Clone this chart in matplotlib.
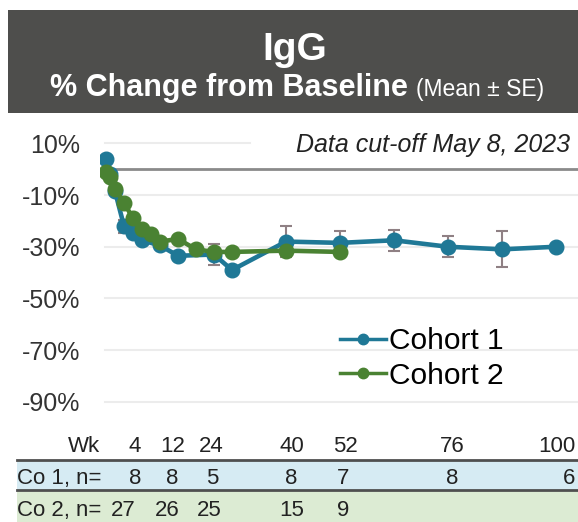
import matplotlib
matplotlib.use("Agg")
import matplotlib.pyplot as plt
from matplotlib.lines import Line2D
from matplotlib.patches import Rectangle

W, H = 578, 522
BLUE = "#1f7896"
GREEN = "#4a8232"
ERR = "#8f8084"
FONT = "Liberation Sans"

# ---- data ----
co1_weeks = [0, 1, 2, 4, 6, 8, 12, 16, 24, 28, 40, 52, 64, 76, 88, 100]
co1_mean = [4, -2, -8.5, -22, -24.5, -27.5, -29.5, -33.5, -33, -39,
            -28, -28.5, -27.5, -30, -31, -30]
co1_se = [1, 1, 1.5, 2.5, 1.5, 1.5, 1.5, 1.5, 4, 1.5, 6, 4.5, 4, 4, 7, 1]

co2_weeks = [0, 1, 2, 4, 6, 8, 10, 12, 16, 20, 24, 28, 40, 52]
co2_mean = [-1, -3, -7.5, -13, -19, -23, -25, -28, -27, -31, -32, -32, -31.5, -32]

y_ticks = [10, -10, -30, -50, -70, -90]

week_labels = ["Wk", "4", "12", "24", "40", "52", "76", "100"]
co1_n = ["8", "8", "5", "8", "7", "8", "6"]
co2_n = ["27", "26", "25", "15", "9"]

# table column centres in pixels (layout only)
WEEK_X = [84, 135, 172.5, 211, 291.5, 345, 452.5, 557]
CO1_X = [135, 172.5, 212, 291.5, 343, 452, 569]
CO2_X = [123, 167, 209, 291.5, 343]

plt.rcParams["font.family"] = [FONT, "DejaVu Sans"]


def px(x, y):
    """pixel (from top-left) -> figure fraction"""
    return x / W, 1 - y / H


fig = plt.figure(figsize=(W / 100, H / 100), dpi=100)

# title bar
x0, y0 = px(8, 113)
fig.patches.append(Rectangle((x0, y0), 1 - x0, 103 / H, transform=fig.transFigure,
                             facecolor="#4e4e4c", edgecolor="none", zorder=0))
fig.text(*px(295, 60), "IgG", ha="center", va="baseline", fontsize=28,
         fontweight="bold", color="white")
fig.text(*px(408, 96), "% Change from Baseline", ha="right", va="baseline",
         fontsize=22, fontweight="bold", color="white")
fig.text(*px(416, 96), "(Mean \u00b1 SE)", ha="left", va="baseline",
         fontsize=16.5, color="white")

# plot area: x_px = 106 + 4.5*wk, y_px = 169.2 - 2.585*v
ax = fig.add_axes([100 / W, 1 - 420 / H, 478 / W, 302 / H])
ax.set_xlim(-6 / 4.5, 472 / 4.5)
ax.set_ylim(-250.8 / 2.585, 51.2 / 2.585)
for s in ax.spines.values():
    s.set_visible(False)
ax.set_xticks([])
ax.set_yticks(y_ticks)
ax.set_yticklabels([f"{v}%" for v in y_ticks], fontsize=18, color="#333333")
ax.tick_params(axis="y", length=0, pad=14)

for v in y_ticks:
    xmax = (250 - 100) / 478 if v == 10 else 1
    ax.axhline(v, xmin=5 / 478, xmax=xmax, color="#ececec", lw=1.5, zorder=0)
ax.axhline(0, xmin=12 / 478, color="#8a8a8a", lw=2, zorder=1)

ax.errorbar(co1_weeks, co1_mean, yerr=co1_se, fmt="none", ecolor=ERR,
            elinewidth=1.5, capsize=4, capthick=1.5, zorder=2)
ax.plot(co1_weeks, co1_mean, color=BLUE, lw=3.3, marker="o", ms=10.5,
        solid_capstyle="round", zorder=3)
ax.plot(co2_weeks, co2_mean, color=GREEN, lw=3.3, marker="o", ms=10.5,
        solid_capstyle="round", zorder=4)

ax.text(*px(570, 152), "Data cut-off May 8, 2023", transform=fig.transFigure,
        ha="right", va="baseline", fontsize=18, style="italic", color="#222222")

handles = [
    Line2D([0], [0], color=BLUE, lw=2.5, marker="o", ms=7.5, label="Cohort 1"),
    Line2D([0], [0], color=GREEN, lw=2.5, marker="o", ms=7.5, label="Cohort 2"),
]
ax.legend(handles=handles, loc="upper left", bbox_to_anchor=px(340, 327),
          bbox_transform=fig.transFigure, frameon=False, fontsize=21.5,
          borderpad=0, borderaxespad=0, handlelength=1.55, handletextpad=0.1,
          labelspacing=0.22)

# n table
bx, by = px(17, 490)
fig.patches.append(Rectangle((bx, by), 1 - bx, 30 / H, transform=fig.transFigure,
                             facecolor="#d6ebf3", edgecolor="none"))
bx, by = px(17, 522)
fig.patches.append(Rectangle((bx, by), 1 - bx, 31 / H, transform=fig.transFigure,
                             facecolor="#dcebd3", edgecolor="none"))
for yl in (460, 490):
    fig.add_artist(Line2D([17 / W, 1], [1 - yl / H] * 2, transform=fig.transFigure,
                          color="#4f4f4f", lw=2))

for lab, x in zip(week_labels, WEEK_X):
    fig.text(*px(x, 452), lab, ha="center", va="baseline", fontsize=16, color="#222222")
fig.text(*px(17, 484), "Co 1, n=", ha="left", va="baseline", fontsize=16, color="#222222")
for lab, x in zip(co1_n, CO1_X):
    fig.text(*px(x, 484), lab, ha="center", va="baseline", fontsize=16, color="#222222")
fig.text(*px(17, 516), "Co 2, n=", ha="left", va="baseline", fontsize=16, color="#222222")
for lab, x in zip(co2_n, CO2_X):
    fig.text(*px(x, 516), lab, ha="center", va="baseline", fontsize=16, color="#222222")

fig.savefig("out.png", dpi=100)
